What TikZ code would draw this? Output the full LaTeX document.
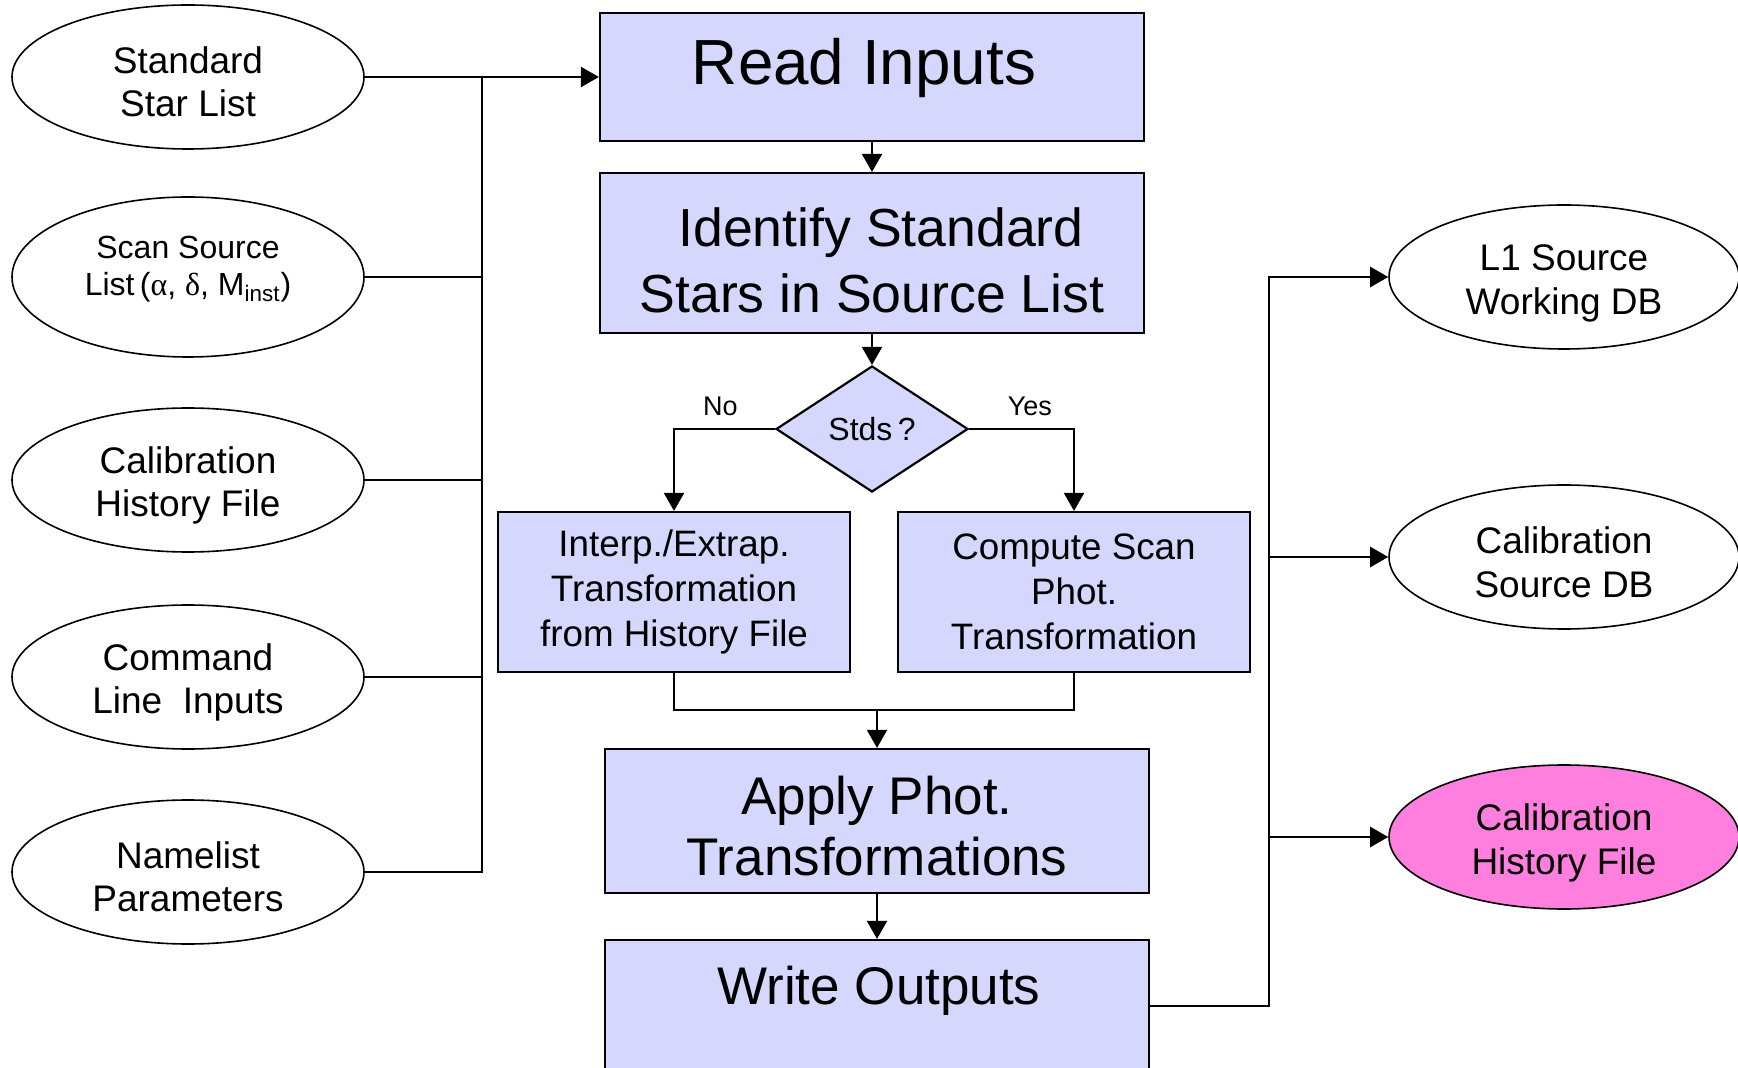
\documentclass[tikz,border=0pt]{standalone}
\usepackage{fontspec}
\setmainfont{Liberation Sans}
\newfontfamily\greekfont{Liberation Serif}
\usetikzlibrary{shapes,arrows.meta}
\definecolor{procblue}{HTML}{D5D8FC}
\definecolor{histpink}{HTML}{FF7FDE}
\newcommand{\lowtext}{\rule{0pt}{18.5pt}}

\begin{document}
\begin{tikzpicture}
      [x=0.5pt, y=-0.5pt,
      line width=1.1pt,
      flow/.style={-{Triangle[length=9pt, width=10pt]}},
      file style/.style={draw, ellipse, line width=0.8pt, inner sep=0pt, align=center,
        minimum width=176pt, minimum height=72pt, font=\fontsize{18.5}{21.6}\selectfont},
      out style/.style={file style, minimum width=175pt, font=\fontsize{18.5}{22}\selectfont},
      proc style/.style={draw, rectangle, fill=procblue, inner sep=0pt, align=center,
        minimum width=272pt},
      big text/.style={font=\fontsize{26.5}{32}\selectfont},
      step text/.style={font=\fontsize{18.4}{22.4}\selectfont},
      decision style/.style={draw, diamond, fill=procblue, inner sep=0pt,
        minimum width=96pt, minimum height=63pt, font=\fontsize{16}{18}\selectfont},
      branch label/.style={font=\fontsize{13.5}{15}\selectfont, inner sep=6pt}
      ]
      \useasboundingbox (0,0) rectangle (1738,1068);

      % input files
      \node[file style] (stdlist) at (188,77) {\lowtext Standard\\Star List};
      \node[file style, minimum height=80pt, font=\fontsize{16}{18.8}\selectfont] (scanlist) at (188,277)
        {Scan Source\\List\,({\greekfont α}, {\greekfont δ}, M\textsubscript{inst})\rule[-11pt]{0pt}{1pt}};
      \node[file style] (calhist) at (188,480) {\lowtext Calibration\\History File};
      \node[file style] (cmdline) at (188,677) {\lowtext Command\\Line\ \ Inputs};
      \node[file style] (namelist) at (188,872) {\lowtext Namelist\\Parameters};

      % processing steps
      \node[proc style, minimum height=64pt] (read) at (872,77) {};
      \node[font=\fontsize{31.9}{36}\selectfont] (readtxt) at (864,68) {Read Inputs};
      \node[proc style, minimum height=80pt, font=\fontsize{26.8}{33}\selectfont] (ident) at (872,253)
        {\rule{0pt}{27pt}\hspace*{9pt}Identify Standard\\Stars in Source List};
      \node[decision style] (stds) at (872,429) {Stds\,?};
      \node[proc style, minimum width=176pt, minimum height=80pt, step text] (interp) at (674,592)
        {Interp./Extrap.\\Transformation\\from History File};
      \node[proc style, minimum width=176pt, minimum height=80pt, step text] (compute) at (1074,592)
        {Compute Scan\\Phot.\\Transformation};
      \node[proc style, minimum height=72pt, font=\fontsize{26.5}{30.5}\selectfont] (apply) at (877,821)
        {\rule{0pt}{24pt}Apply Phot.\\Transformations};
      \node[proc style, minimum height=66pt] (write) at (877,1006) {};
      \node[big text] (writetxt) at (879,991) {Write Outputs};

      % output files
      \node[out style] (l1db) at (1564,277) {\rule{0pt}{19.5pt}L1 Source\\Working DB};
      \node[out style] (calsrc) at (1564,557) {\lowtext Calibration\\Source DB};
      \node[out style, fill=histpink] (calhistout) at (1564,837) {\rule{0pt}{19.5pt}Calibration\\History File};

      \coordinate (inbus) at (482,77);
      \coordinate (outbus) at (1269,277);
      \coordinate (join) at (877,710);

      \draw[flow] (stdlist) -- (read);
      \draw (namelist.east) -| (inbus);
      \draw (scanlist.east) -- (scanlist.east -| inbus);
      \draw (calhist.east) -- (calhist.east -| inbus);
      \draw (cmdline.east) -- (cmdline.east -| inbus);

      \draw[flow] (read) -- (ident);
      \draw[flow] (ident) -- (stds);
      \draw[flow] (stds.west) -| node[pos=0.27, above, branch label] {No} (interp.north);
      \draw[flow] (stds.east) -| node[pos=0.29, above, branch label] {Yes} (compute.north);
      \draw (interp.south) |- (join) -| (compute.south);
      \draw[flow] (join) -- (apply.north);
      \draw[flow] (apply) -- (write);

      \draw[flow] (write.east) -| (outbus) -- (l1db.west);
      \draw[flow] (calsrc.west -| outbus) -- (calsrc.west);
      \draw[flow] (calhistout.west -| outbus) -- (calhistout.west);
\end{tikzpicture}
\end{document}
